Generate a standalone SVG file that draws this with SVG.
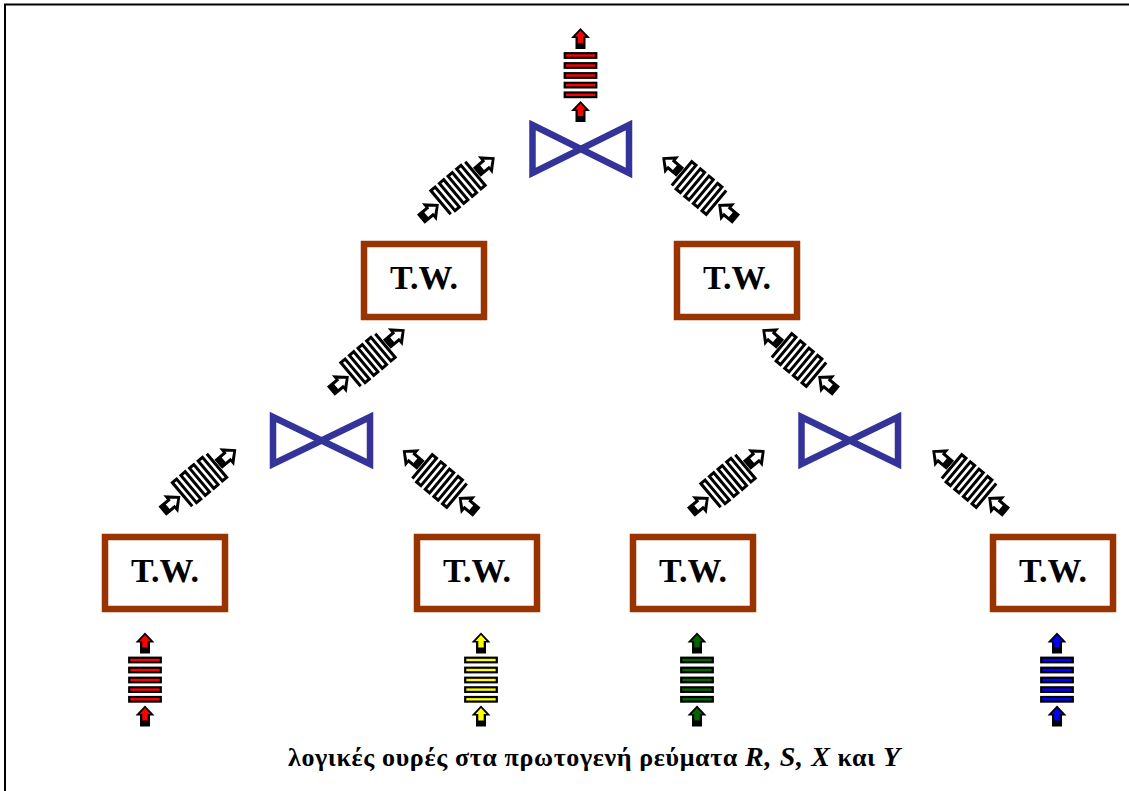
<svg xmlns="http://www.w3.org/2000/svg" width="1129" height="791" viewBox="0 0 1129 791">
<style>
.box{fill:#fff;stroke:#993300;stroke-width:6.500}
.tie{fill:none;stroke:#333399;stroke-width:6.500;stroke-miterlimit:10}
.lbl{font-family:"Liberation Serif","Times New Roman",serif;font-weight:bold;font-size:34px;text-anchor:middle;fill:#000}
.cap{font-family:"Liberation Serif","Times New Roman",serif;font-weight:bold;font-size:26px;fill:#000}
.bar{stroke:#000;stroke-width:2.200}
</style>
<defs>
<g id="arrow">
<path d="M0,-47 L9.500,-37 L5,-37 L5,-26 L-5,-26 L-5,-37 L-9.500,-37 Z" fill="#000"/>
<path d="M0,-44.500 L5.500,-38.500 L2.700,-38.500 L2.700,-32 L-2.700,-32 L-2.700,-38.500 L-5.500,-38.500 Z"/>
</g>
<g id="arrowd">
<path d="M0,-48 L11.500,-35.500 L6,-35.500 L6,-24.500 L-6,-24.500 L-6,-35.500 L-11.500,-35.500 Z" fill="#000"/>
<path d="M0,-44 L5,-38 L3,-38 L3,-31.500 L-3,-31.500 L-3,-38 L-5,-38 Z" fill="#fff"/>
</g>
<g id="qv">
<use href="#arrow"/>
<use href="#arrow" y="73"/>
<rect class="bar" x="-15.800" y="-21.800" width="31.600" height="4.600"/>
<rect class="bar" x="-15.800" y="-11.800" width="31.600" height="4.600"/>
<rect class="bar" x="-15.800" y="-1.800" width="31.600" height="4.600"/>
<rect class="bar" x="-15.800" y="7.800" width="31.600" height="4.600"/>
<rect class="bar" x="-15.800" y="17.500" width="31.600" height="4.600"/>
</g>
<g id="qd">
<use href="#arrowd"/>
<use href="#arrowd" y="73"/>
<path d="M-15.500,-22.500 H15.500 V-16.900 H-15.500 V-11.250 H15.500 V-5.600 H-15.500 V0 H15.500 V5.600 H-15.500 V11.250 H15.500 V16.900 H-15.500 V22.500 H15.500" fill="none" stroke="#000" stroke-width="3"/>
</g>
</defs>
<rect width="1129" height="791" fill="#fff"/>
<path d="M5,791 V4.500 H1129" fill="none" stroke="#000" stroke-width="2"/>
<g id="connectors">
<use href="#qv" transform="translate(580.500,75)" fill="#f00"/>
<use href="#qd" transform="translate(458,188) rotate(50)"/>
<use href="#qd" transform="translate(699,188) rotate(-50)"/>
<use href="#qd" transform="translate(368,360) rotate(50)"/>
<use href="#qd" transform="translate(799,360) rotate(-50)"/>
<use href="#qd" transform="translate(199.500,480) rotate(50)"/>
<use href="#qd" transform="translate(439.500,481) rotate(-50)"/>
<use href="#qd" transform="translate(728,481) rotate(50)"/>
<use href="#qd" transform="translate(969,481) rotate(-50)"/>
<use href="#qv" transform="translate(145,679.500)" fill="#f00"/>
<use href="#qv" transform="translate(481,679.500)" fill="#ff0"/>
<use href="#qv" transform="translate(697,679.500)" fill="#060"/>
<use href="#qv" transform="translate(1057,679.500)" fill="#00f"/>
</g>
<g id="tie-top"><path class="tie" d="M532.500,125 L629,173 V125 L532.500,173 Z"/></g>
<g id="tie-left"><path class="tie" d="M273,417 L370,464 V417 L273,464 Z"/></g>
<g id="tie-right"><path class="tie" d="M801.500,417 L898,464 V417 L801.500,464 Z"/></g>
<g id="tw-1"><rect class="box" x="364" y="244" width="120" height="73"/><text class="lbl" x="424" y="289">T.W.</text></g>
<g id="tw-2"><rect class="box" x="677" y="244" width="120" height="73"/><text class="lbl" x="737" y="289">T.W.</text></g>
<g id="tw-3"><rect class="box" x="105" y="537" width="120" height="72"/><text class="lbl" x="165" y="582">T.W.</text></g>
<g id="tw-4"><rect class="box" x="417" y="537" width="120" height="72"/><text class="lbl" x="477" y="582">T.W.</text></g>
<g id="tw-5"><rect class="box" x="633" y="537" width="120" height="72"/><text class="lbl" x="693" y="582">T.W.</text></g>
<g id="tw-6"><rect class="box" x="993" y="537" width="120" height="72"/><text class="lbl" x="1053" y="582">T.W.</text></g>
<text id="caption" class="cap" x="288" y="766" textLength="612">λογικές ουρές στα πρωτογενή ρεύματα <tspan font-style="italic" font-size="28">R, S, X</tspan> και <tspan font-style="italic" font-size="28">Υ</tspan></text>
</svg>
